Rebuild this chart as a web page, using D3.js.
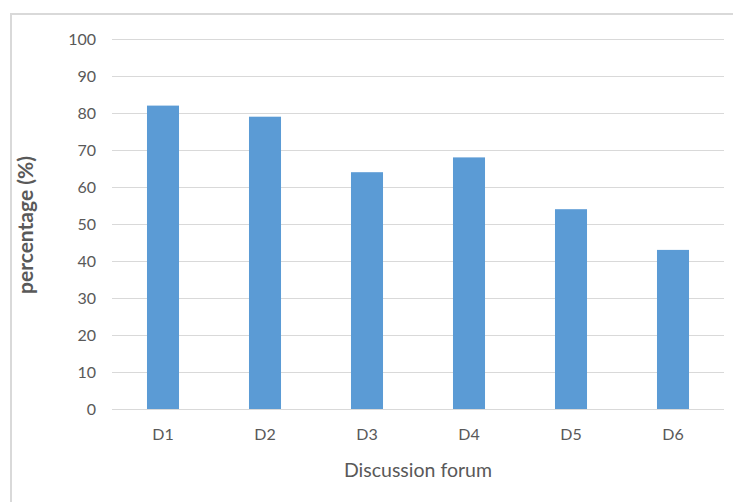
<!DOCTYPE html>
<html>
<head>
<meta charset="utf-8">
<script src="https://cdn.jsdelivr.net/npm/d3@7"></script>
<style>
  body { margin: 0; background: #fff; }
  svg text { font-family: Lato, "Open Sans", sans-serif; fill: #595959; }
</style>
</head>
<body>
<svg id="chart" width="733" height="502"></svg>
<script>
// discussion forum participation
const forums = ['D1', 'D2', 'D3', 'D4', 'D5', 'D6'];
const percentages = [82, 79, 64, 68, 54, 43];
const yTicks = [0, 10, 20, 30, 40, 50, 60, 70, 80, 90, 100];

const svg = d3.select('#chart');
const plot = { left: 112, right: 724, top: 39, bottom: 409 };

// chart frame (runs off the right and bottom edge)
svg.append('path')
  .attr('d', 'M11,520 L11,14 L760,14')
  .attr('fill', 'none')
  .attr('stroke', '#d9d9d9')
  .attr('stroke-width', 2);

const x = d3.scaleBand()
  .domain(forums)
  .range([plot.left, plot.right])
  .paddingInner(0.686)
  .paddingOuter(0.343);

const y = d3.scaleLinear()
  .domain([0, 100])
  .range([plot.bottom, plot.top]);

// gridlines + y tick labels
const yAxis = d3.axisLeft(y).tickValues(yTicks)
  .tickSize(-(plot.right - plot.left)).tickPadding(16);
const gy = svg.append('g')
  .attr('transform', `translate(${plot.left},0)`)
  .call(yAxis);
gy.select('.domain').remove();
gy.selectAll('.tick line').attr('stroke', '#d9d9d9').attr('stroke-width', 1.2);
gy.selectAll('.tick text').attr('font-size', 16).attr('fill', '#595959');

svg.selectAll('rect.bar')
  .data(percentages)
  .enter()
  .append('rect')
  .attr('class', 'bar')
  .attr('x', (d, i) => x(forums[i]))
  .attr('y', d => y(d))
  .attr('width', x.bandwidth())
  .attr('height', d => y(0) - y(d))
  .attr('fill', '#5b9bd5');

// x axis
const xAxis = d3.axisBottom(x).tickSize(0).tickPadding(20);
const gx = svg.append('g')
  .attr('transform', `translate(0,${plot.bottom})`)
  .call(xAxis);
gx.select('.domain').attr('stroke', '#d9d9d9').attr('stroke-width', 1.2)
  .attr('d', `M${plot.left},0.5H${plot.right}`);
gx.selectAll('.tick text').attr('font-size', 16).attr('fill', '#595959');

svg.append('text')
  .attr('x', (plot.left + plot.right) / 2)
  .attr('y', 477)
  .attr('text-anchor', 'middle')
  .attr('font-size', 19.5)
  .text('Discussion forum');

svg.append('text')
  .attr('transform', `translate(33,${(plot.top + plot.bottom) / 2 + 1}) rotate(-90)`)
  .attr('text-anchor', 'middle')
  .attr('font-size', 21)
  .attr('font-weight', 'bold')
  .text('percentage (%)');
</script>
</body>
</html>
